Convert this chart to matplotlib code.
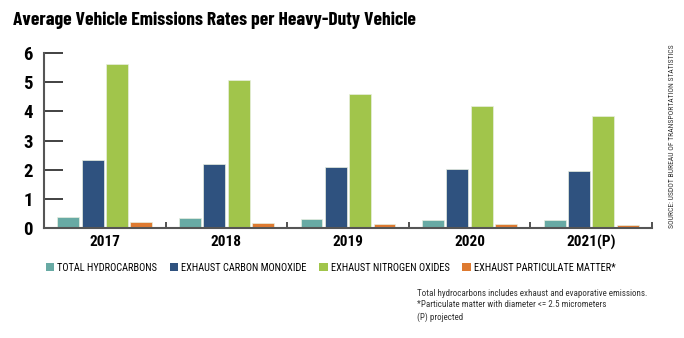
import matplotlib.pyplot as plt
import numpy as np
from matplotlib.patches import Patch

plt.rcParams["font.family"] = ["Roboto Condensed", "DejaVu Sans"]

years = ["2017", "2018", "2019", "2020", "2021(P)"]
hydrocarbons = [0.37, 0.33, 0.30, 0.28, 0.25]
carbon_monoxide = [2.33, 2.20, 2.10, 2.02, 1.94]
nitrogen_oxides = [5.63, 5.07, 4.60, 4.19, 3.84]
particulate = [0.19, 0.16, 0.13, 0.12, 0.09]

series = [
    ("TOTAL HYDROCARBONS", hydrocarbons, "#68aaa4"),
    ("EXHAUST CARBON MONOXIDE", carbon_monoxide, "#2f527f"),
    ("EXHAUST NITROGEN OXIDES", nitrogen_oxides, "#a1c54b"),
    ("EXHAUST PARTICULATE MATTER*", particulate, "#de7a30"),
]

fig = plt.figure(figsize=(6.84, 3.38), dpi=100)
ax = fig.add_axes([44 / 684, 1 - 227.7 / 338, (652 - 44) / 684, (227.7 - 53.3) / 338])

x = np.arange(len(years))
width = 0.18
step = 0.2
handles = []
for i, (label, vals, color) in enumerate(series):
    ax.bar(x + (i - 1.5) * step, vals, width, color=color, edgecolor="#e8efe0", linewidth=0.5)
    handles.append(Patch(facecolor=color, label=label))

ax.set_xlim(-0.5, 4.5)
ax.set_ylim(0, 6)
ax.set_yticks(range(7))
ax.set_xticks(x)
ax.set_xticklabels(years, fontsize=11, fontweight="bold")
ax.set_xticks(list(x + 0.5), minor=True)
ax.tick_params(axis="x", which="major", length=0, pad=5)
ax.tick_params(axis="x", which="minor", direction="in", length=4, width=1.2, color="#333333")
ax.tick_params(axis="y", direction="in", length=14, width=1.3, color="#333333",
               labelsize=13.5, pad=8)
for t in ax.get_yticklabels():
    t.set_fontweight("bold")
for side in ("top", "right"):
    ax.spines[side].set_visible(False)
for side in ("left", "bottom"):
    ax.spines[side].set_color("#555555")
    ax.spines[side].set_linewidth(1.5)

# the original title face is narrower than Roboto Condensed
fig.text(13 / 684, 1 - 20 / 338, "Average Vehicle Emissions Rates per Heavy-Duty Vehicle",
         fontsize=14, fontweight="bold", va="center", ha="left",
         family=["Barlow Condensed", "Roboto Condensed", "DejaVu Sans"])

fig.legend(handles=handles, ncol=4, loc="center left",
           bbox_to_anchor=(46 / 684, 1 - 268 / 338), frameon=False,
           fontsize=7.5, handlelength=0.8, handleheight=0.8, handletextpad=0.3,
           columnspacing=1.2, borderpad=0, borderaxespad=0)

notes = ("Total hydrocarbons includes exhaust and evaporative emissions.\n"
         "*Particulate matter with diameter <= 2.5 micrometers\n"
         "(P) projected")
fig.text(417 / 684, 1 - 289 / 338, notes, fontsize=6.5, color="#333333",
         va="top", ha="left", linespacing=1.35)

fig.text(672 / 684, 1 - 228 / 338, "SOURCE: USDOT BUREAU OF TRANSPORTATION STATISTICS",
         fontsize=5.5, rotation=90, va="bottom", ha="center", color="#333333")

fig.savefig("out.png", dpi=100)
